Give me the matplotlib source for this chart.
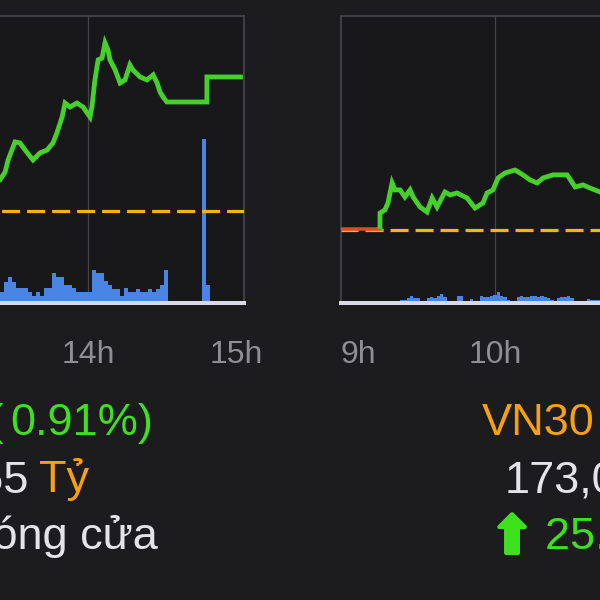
import matplotlib

matplotlib.use("Agg")
import matplotlib.pyplot as plt
import matplotlib.patheffects as pe
import numpy as np

plt.rcParams["font.family"] = ["Liberation Sans", "DejaVu Sans"]

# ---- data (x in minutes of the day, price as % change vs reference) ----
# left panel: VN-Index afternoon session
left_t = [800.3, 804.3, 806.4, 807.6, 810.4, 812.4, 814.5, 817.7, 820.5, 823.4,
          825.8, 827.4, 829.5, 830.7, 832.7, 835.5, 838.0, 840.8, 841.6, 842.8,
          844.1, 845.7, 846.9, 848.1, 848.9, 851.0, 853.0, 855.0, 857.0, 858.2,
          861.1, 863.9, 866.4, 868.0, 869.2, 870.4, 872.0, 888.2, 888.2, 902.8]
left_pct = [0.109, 0.211, 0.265, 0.346, 0.469, 0.462, 0.414, 0.346, 0.394, 0.414,
            0.462, 0.530, 0.638, 0.733, 0.706, 0.733, 0.706, 0.638, 0.706, 0.890,
            1.026, 1.039, 1.141, 1.093, 1.026, 0.958, 0.869, 0.890, 0.992, 0.958,
            0.910, 0.890, 0.924, 0.869, 0.808, 0.774, 0.740, 0.740, 0.910, 0.910]
left_vol = [11, 21, 26, 21, 15, 15, 15, 11, 7, 11, 7, 15, 15, 30, 26, 26, 18, 18,
            15, 11, 11, 11, 11, 33, 30, 30, 22, 18, 14, 14, 7, 15, 11, 11, 14, 11,
            11, 14, 11, 14, 18, 33]
left_vol_start = 804.3
atc_t = [886.2, 887.8]
atc_vol = [164, 18]
left_hours = [840, 900]
left_hour_labels = ["14h", "15h"]

# right panel: VN30 morning session
ato_t = [540.0, 555.2]
ato_pct = [0.007, 0.007]
right_t = [555.2, 555.2, 557.1, 558.3, 559.9, 561.0, 563.0, 564.9, 566.9, 568.1,
           570.8, 573.5, 575.5, 577.4, 580.5, 582.5, 585.2, 589.1, 592.2, 595.3,
           596.9, 599.2, 601.2, 603.9, 607.8, 610.9, 613.6, 616.4, 618.7, 622.6,
           628.1, 631.2, 634.3, 637.0, 640.9, 644.8]
right_pct = [0.007, 0.115, 0.136, 0.183, 0.319, 0.272, 0.272, 0.224, 0.272, 0.224,
             0.156, 0.122, 0.217, 0.156, 0.258, 0.238, 0.251, 0.217, 0.149, 0.183,
             0.251, 0.272, 0.353, 0.387, 0.407, 0.374, 0.340, 0.319, 0.353, 0.374,
             0.374, 0.292, 0.306, 0.285, 0.258, 0.258]
right_vol = [2, 0, 1, 2, 2, 2, 0, 3, 3, 5, 7, 5, 5, 2, 0, 5, 6, 5, 7, 9, 6, 2, 0,
             0, 7, 7, 2, 0, 4, 2, 0, 7, 6, 6, 7, 8, 11, 7, 6, 3, 0, 2, 6, 7, 6, 6,
             7, 7, 6, 7, 6, 5, 3, 0, 5, 6, 6, 7, 5, 0, 0, 2, 0, 4, 3, 3, 3]
right_vol_start = 553.9
right_hours = [540, 600]
right_hour_labels = ["9h", "10h"]

BG = "#1c1c1f"
PANEL = "#18181b"
BORDER = "#4a4a50"
GREEN_LINE = "#46d02a"
GREEN_TXT = "#3fe01e"
ORANGE = "#f7a012"
REF = "#f2b705"
BLUE = "#4a85e6"
WHITE = "#e3e3e8"
GREY = "#8e8e93"
PX = 0.72  # one pixel in points at dpi 100


def make_panel(fig, rect, xlim, ylim, vol_max, hours, labels, grid_hours, sides):
    ax = fig.add_axes(rect)
    ax.set_facecolor(PANEL)
    ax.set_xlim(*xlim)
    ax.set_ylim(0, vol_max)
    for name, spine in ax.spines.items():
        spine.set_color(BORDER)
        spine.set_linewidth(1.5 * PX)
        spine.set_visible(name in sides)
    ax.spines["bottom"].set_visible(True)
    ax.spines["bottom"].set_color("#d9d9e6")
    ax.spines["bottom"].set_linewidth(4 * PX)
    ax.set_yticks([])
    ax.set_xticks(hours, labels)
    ax.tick_params(axis="x", length=0, pad=60 * PX, labelsize=23, labelcolor=GREY)
    for lbl in ax.get_xticklabels():
        lbl.set_va("baseline")
        lbl.set_fontweight("light")
    for h in grid_hours:
        ax.axvline(h, color="#44444a", lw=1.2 * PX, zorder=0.5)

    price = ax.twinx()
    price.set_ylim(*ylim)
    price.set_yticks([])
    price.patch.set_visible(False)
    for spine in price.spines.values():
        spine.set_visible(False)
    return ax, price


def main() -> None:
    fig = plt.figure(figsize=(6, 6), dpi=100, facecolor=BG)

    # left panel
    ax_l, pr_l = make_panel(
        fig, [-60 / 600, 1 - 303 / 600, 304 / 600, 287 / 600],
        (780, 903.24), (-0.625, 1.324), 287,
        left_hours, left_hour_labels, [840], ("top", "right", "left"),
    )
    t = left_vol_start + 1.62 * np.arange(len(left_vol))
    ax_l.bar(t, left_vol, width=1.62, align="edge", color=BLUE, zorder=1)
    ax_l.bar(atc_t, atc_vol, width=1.62, align="edge", color=BLUE, zorder=1)
    pr_l.axhline(0, color=REF, lw=3.2 * PX, linestyle=(7, (18 / 3.2, 7 / 3.2)), zorder=2)
    pr_l.plot(left_t, left_pct, color=GREEN_LINE, lw=4.8 * PX, zorder=3,
              solid_joinstyle="miter", solid_capstyle="butt")

    # right panel
    ax_r, pr_r = make_panel(
        fig, [341 / 600, 1 - 303 / 600, 400 / 600, 287 / 600],
        (540, 695.84), (-0.496, 1.453), 287,
        right_hours, right_hour_labels, [600], ("top", "left", "right"),
    )
    ax_r.get_xticklabels()[0].set_ha("left")
    t = right_vol_start + 1.30 * np.arange(len(right_vol))
    ax_r.bar(t, right_vol, width=1.30, align="edge", color=BLUE, zorder=1)
    pr_r.axhline(0, color=REF, lw=3.2 * PX, linestyle=(0.3, (18 / 3.2, 7 / 3.2)), zorder=2)
    pr_r.plot(ato_t, ato_pct, color="#e0482a", lw=3.5 * PX, zorder=3)
    pr_r.plot(right_t, right_pct, color=GREEN_LINE, lw=4.8 * PX, zorder=4,
              solid_joinstyle="miter", solid_capstyle="butt")

    # summary text under the charts
    def put(x, y, s, color, ha="left", **kw):
        fig.text(x / 600, 1 - y / 600, s, color=color, ha=ha, va="baseline",
                 fontsize=32.5, **kw)

    put(4, 435, "+9.61 (", GREEN_TXT, ha="right")
    put(10, 435, "0.91%)", GREEN_TXT)
    put(29, 492, "1,234.55", WHITE, ha="right")
    put(39, 492, "Tỷ", ORANGE)
    put(158, 549, "Đóng cửa", WHITE, ha="right")

    put(482, 435, "VN30", ORANGE)
    put(505, 492, "173,062,310", WHITE)
    fig.text(512 / 600, 1 - 553 / 600, "⬆", color=GREEN_TXT, ha="center",
             va="baseline", fontsize=37, family=["DejaVu Sans"],
             path_effects=[pe.withStroke(linewidth=3, foreground=GREEN_TXT)])
    put(545, 549, "25.61 (2.08%)", GREEN_TXT)

    fig.savefig("out.png", dpi=100, facecolor=BG)
    plt.close(fig)


if __name__ == "__main__":
    main()
